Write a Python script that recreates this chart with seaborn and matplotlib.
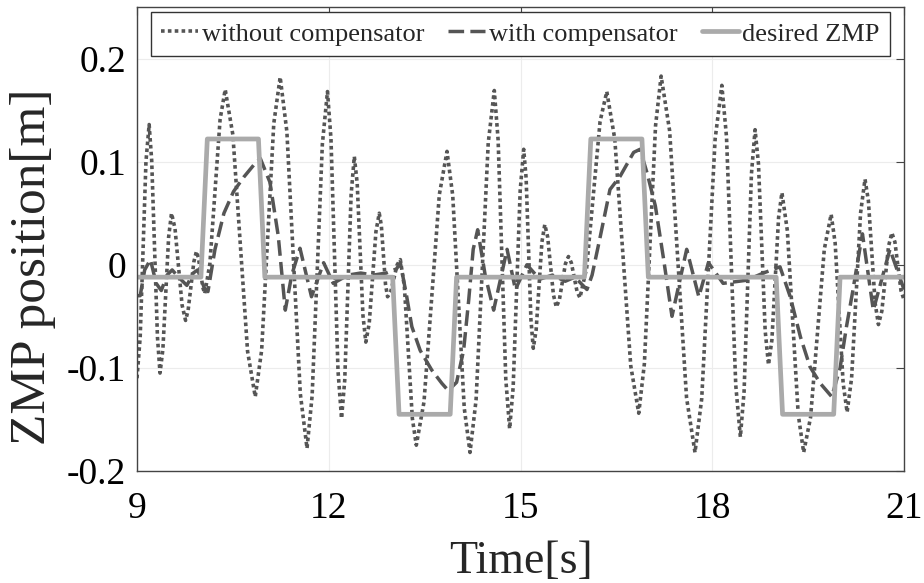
import matplotlib
matplotlib.use("Agg")
import matplotlib.pyplot as plt
import seaborn as sns

# ---- data (extrema plus shoulder points) ----
t_without = [9.00, 9.05, 9.14, 9.19, 9.23, 9.32, 9.36, 9.405, 9.495, 9.54, 9.595, 9.705,
             9.76, 9.80, 9.89, 9.93, 9.96, 10.03, 10.06, 10.14, 10.30, 10.38, 10.50, 10.73,
             10.85, 10.95, 11.14, 11.24, 11.345, 11.555, 11.66, 11.74, 11.90, 11.98, 12.035,
             12.145, 12.20, 12.25, 12.35, 12.40, 12.445, 12.535, 12.58, 12.633, 12.738, 12.79,
             12.823, 12.888, 12.92, 12.97, 13.07, 13.12, 13.183, 13.308, 13.37, 13.49, 13.73,
             13.85, 13.94, 14.12, 14.21, 14.305, 14.495, 14.59, 14.65, 14.77, 14.83, 14.885,
             14.995, 15.05, 15.088, 15.163, 15.20, 15.245, 15.335, 15.38, 15.425, 15.515, 15.56,
             15.608, 15.703, 15.75, 15.795, 15.885, 15.93, 16.035, 16.245, 16.35, 16.475, 16.725,
             16.85, 16.938, 17.113, 17.20, 17.333, 17.598, 17.73, 17.835, 18.045, 18.15, 18.223,
             18.368, 18.44, 18.498, 18.613, 18.67, 18.723, 18.828, 18.88, 18.933, 19.038, 19.09,
             19.175, 19.345, 19.43, 19.538, 19.753, 19.86, 19.923, 20.048, 20.11, 20.18, 20.32,
             20.39, 20.443, 20.548, 20.60, 20.653, 20.758, 20.81, 20.858, 20.953, 21.00]
z_without = [-0.110, -0.070, 0.100, 0.136, 0.101, -0.070, -0.105, -0.082, 0.027, 0.050, 0.035, -0.039,
             -0.054, -0.044, 0.003, 0.013, 0.007, -0.022, -0.028, 0.001, 0.141, 0.170, 0.126, -0.084,
             -0.128, -0.083, 0.137, 0.182, 0.129, -0.125, -0.178, -0.127, 0.117, 0.168, 0.122,
             -0.103, -0.149, -0.112, 0.068, 0.105, 0.079, -0.049, -0.075, -0.057, 0.032, 0.050,
             0.038, -0.019, -0.031, -0.026, 0.000, 0.005, -0.021, -0.149, -0.175, -0.133, 0.068,
             0.110, 0.067, -0.139, -0.182, -0.131, 0.118, 0.169, 0.121, -0.111, -0.159, -0.119,
             0.072, 0.112, 0.084, -0.053, -0.081, -0.063, 0.022, 0.039, 0.027, -0.029, -0.041,
             -0.034, 0.001, 0.008, 0.002, -0.026, -0.032, -0.003, 0.139, 0.168, 0.122, -0.098,
             -0.144, -0.096, 0.135, 0.183, 0.130, -0.129, -0.182, -0.130, 0.122, 0.174, 0.124,
             -0.117, -0.167, -0.123, 0.088, 0.131, 0.098, -0.064, -0.097, -0.073, 0.046, 0.070,
             0.033, -0.145, -0.182, -0.148, 0.015, 0.049, 0.021, -0.115, -0.143, -0.110, 0.050,
             0.083, 0.062, -0.037, -0.058, -0.045, 0.018, 0.031, 0.022, -0.025, -0.034]

t_with = [9.00, 9.05, 9.12, 9.21, 9.30, 9.38, 9.47, 9.55, 9.65, 9.78, 9.88, 9.95,
          10.05, 10.11, 10.22, 10.36, 10.51, 10.67, 10.87, 10.93, 11.08, 11.21, 11.32,
          11.42, 11.55, 11.73, 11.92, 12.07, 12.30, 12.50, 12.70, 12.90, 13.06, 13.12,
          13.22, 13.30, 13.43, 13.61, 13.77, 13.87, 14.00, 14.11, 14.19, 14.26, 14.33,
          14.45, 14.58, 14.79, 14.92, 15.10, 15.30, 15.50, 15.70, 15.85, 16.04, 16.12,
          16.25, 16.40, 16.56, 16.77, 16.87, 16.98, 17.11, 17.24, 17.37, 17.60, 17.79,
          17.94, 18.17, 18.54, 18.80, 19.06, 19.22, 19.38, 19.53, 19.69, 19.87, 20.00,
          20.10, 20.20, 20.28, 20.35, 20.52, 20.78, 21.00]
z_with = [-0.030, -0.030, -0.005, 0.005, -0.018, -0.025, -0.010, -0.005, -0.012, -0.020, -0.008, -0.005,
          -0.022, -0.026, 0.015, 0.050, 0.071, 0.085, 0.100, 0.103, 0.080, 0.028, -0.044,
          -0.010, 0.016, -0.031, 0.002, -0.018, -0.010, -0.008, -0.010, -0.008, -0.004, 0.002,
          -0.031, -0.060, -0.083, -0.102, -0.115, -0.122, -0.114, -0.083, -0.034, 0.015, 0.034,
          -0.011, -0.044, 0.015, -0.024, 0.000, -0.014, -0.010, -0.016, -0.012, -0.024, -0.010,
          0.028, 0.073, 0.086, 0.109, 0.112, 0.089, 0.057, 0.005, -0.050, 0.015, -0.031,
          0.002, -0.018, -0.015, -0.008, -0.002, -0.031, -0.070, -0.099, -0.115, -0.128, -0.100,
          -0.060, -0.025, 0.005, 0.030, -0.044, 0.015, -0.024]

t_desired = [9.0, 10.0, 10.1, 10.9, 11.0, 13.0, 13.1, 13.9, 14.0, 16.0, 16.1, 16.9, 17.0,
             19.0, 19.1, 19.9, 20.0, 21.0]
z_desired = [-0.012, -0.012, 0.122, 0.122, -0.012, -0.012, -0.145, -0.145, -0.012, -0.012,
             0.122, 0.122, -0.012, -0.012, -0.145, -0.145, -0.012, -0.012]

x_ticks = [9, 12, 15, 18, 21]
y_ticks = [-0.2, -0.1, 0.0, 0.1, 0.2]
y_tick_labels = ["-0.2", "-0.1", "0", "0.1", "0.2"]

# ---- styling ----
sns.set_style("white")
plt.rcParams['font.family'] = ['Liberation Serif', 'DejaVu Serif']

fig = plt.figure(figsize=(9.24, 5.83), dpi=100)
ax = fig.add_axes([137/924, 1 - 471/583, (904 - 137)/924, (471 - 7)/583])

sns.lineplot(x=t_without, y=z_without, ax=ax, sort=False, estimator=None,
             color='#555555', linewidth=2.6, linestyle=(0, (1, 0.9)),
             label='without compensator')
sns.lineplot(x=t_with, y=z_with, ax=ax, sort=False, estimator=None,
             color='#555555', linewidth=2.5, linestyle=(0, (4.5, 1.8)),
             label='with compensator')
sns.lineplot(x=t_desired, y=z_desired, ax=ax, sort=False, estimator=None,
             color='#aaaaaa', linewidth=3.4, linestyle='-',
             label='desired ZMP')

ax.set_xlim(9, 21)
ax.set_ylim(-0.2, 0.25)
ax.set_xticks(x_ticks)
ax.set_xticklabels([str(v) for v in x_ticks])
ax.set_yticks(y_ticks)
ax.set_yticklabels(y_tick_labels)

ax.grid(True, color='#ececec', linewidth=0.8)
for s in ax.spines.values():
    s.set_color('#444444')
    s.set_linewidth(1.0)
    s.set_visible(True)
ax.tick_params(axis='both', direction='in', length=6, width=0.8, color='#444444',
               top=True, right=True, labelsize=27, labelcolor='black')
ax.tick_params(axis='x', pad=15)
ax.tick_params(axis='y', pad=8)

ax.set_xlabel('Time[s]', fontsize=33, labelpad=10)
ax.set_ylabel('ZMP position[m]', fontsize=37)
ax.yaxis.set_label_coords(-0.106, 0.44)

leg = ax.legend(loc='upper center', bbox_to_anchor=(0.5, 0.99), ncol=3,
                fontsize=19, frameon=True, fancybox=False, edgecolor='#333333',
                handlelength=1.4, handletextpad=0.15, columnspacing=0.9,
                borderpad=0.4, borderaxespad=0)
leg.get_frame().set_linewidth(1.0)
leg.get_frame().set_alpha(1.0)

fig.savefig('out.png', dpi=100)
